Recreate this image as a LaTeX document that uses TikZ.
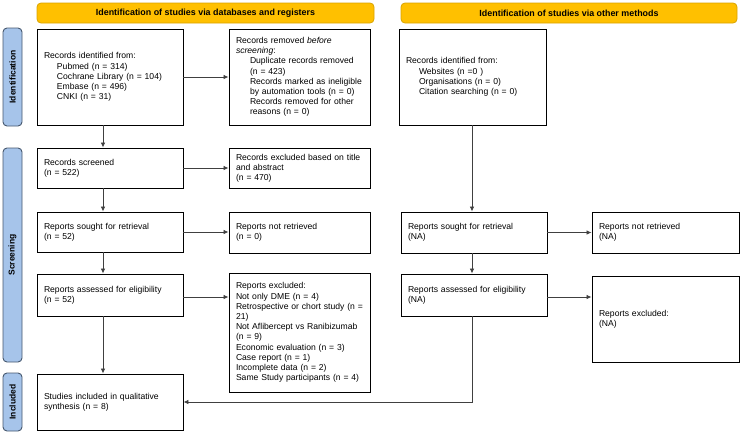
\documentclass[tikz,border=0pt]{standalone}
\usepackage{fontspec}
\setmainfont{Liberation Sans}
\usetikzlibrary{arrows.meta,calc}
\definecolor{hdrfill}{HTML}{FFC000}
\definecolor{hdrline}{HTML}{D9A300}
\definecolor{sidefill}{HTML}{A6C4EA}
\definecolor{sideline}{HTML}{46586E}
\definecolor{conn}{HTML}{404040}
\begin{document}
\begin{tikzpicture}[x=1pt,y=-1pt,
  txt/.style={font=\fontsize{8.6}{10.2}\selectfont},
  box/.style={draw=black,line width=0.9pt,fill=white,inner xsep=7pt,inner ysep=2pt,align=left,txt},
  hdr/.style={draw=hdrline,line width=0.8pt,fill=hdrfill,rounded corners=4pt,minimum height=20pt,font=\fontsize{8.9}{10}\selectfont\bfseries,inner sep=0pt},
  side/.style={draw=sideline,line width=0.9pt,fill=sidefill,rounded corners=4pt,rotate=90,minimum height=19pt,font=\fontsize{8.5}{10}\selectfont\bfseries,inner sep=0pt},
  arr/.style={draw=conn,line width=0.8pt,-{Latex[length=5pt,width=4.5pt]}}
]
\useasboundingbox (0,0) rectangle (740,434);

% headers
\node[hdr,minimum width=337pt] (h1) at (205.5,13) {Identification of studies via databases and registers};
\node[hdr,minimum width=336pt] (h2) at (569,13) {Identification of studies via other methods};

% side labels
\node[side,minimum width=98pt] (s1) at (12.5,77) {Identification};
\node[side,minimum width=214pt] (s2) at (12.5,255) {Screening};
\node[side,minimum width=58pt] (s3) at (12.5,402) {Included};

% left column
\node[box,text width=132pt,minimum height=96pt] (A) at (110,77)
 {Records identified from:\\\hspace*{13pt}Pubmed (n = 314)\\\hspace*{13pt}Cochrane Library (n = 104)\\\hspace*{13pt}Embase (n = 496)\\\hspace*{13pt}CNKI (n = 31)};
\node[box,text width=127pt,minimum height=96pt] (B) at (299.5,77)
 {Records removed \textit{before}\\\textit{screening}:\\\hspace*{14pt}Duplicate records removed\\\hspace*{14pt}(n = 423)\\\hspace*{14pt}\mbox{Records marked as ineligible}\\\hspace*{14pt}\mbox{by automation tools (n = 0)}\\\hspace*{14pt}Records removed for other\\\hspace*{14pt}reasons (n = 0)};
\node[box,text width=132pt,minimum height=40pt] (C) at (110,168)
 {Records screened\\(n = 522)};
\node[box,text width=127pt,minimum height=40pt] (D) at (299.5,168)
 {\mbox{Records excluded based on title}\\and abstract\\(n = 470)};
\node[box,text width=132pt,minimum height=40pt] (E) at (110,232)
 {Reports sought for retrieval\\(n = 52)};
\node[box,text width=127pt,minimum height=41pt] (F) at (299.5,232.5)
 {Reports not retrieved\\(n = 0)};
\node[box,text width=132pt,minimum height=42pt] (G) at (110,295)
 {Reports assessed for eligibility\\(n = 52)};
\node[box,text width=127pt,minimum height=119pt] (H) at (299.5,332.5)
 {Reports excluded:\\Not only DME (n = 4)\\\mbox{Retrospective or chort study (n =}\\21)\\\mbox{Not Aflibercept vs Ranibizumab}\\(n = 9)\\Economic evaluation (n = 3)\\Case report (n = 1)\\Incomplete data (n = 2)\\\mbox{Same Study participants (n = 4)}};
\node[box,text width=132pt,minimum height=56pt] (I) at (110,402)
 {Studies included in qualitative\\synthesis (n = 8)};

% right column
\node[box,text width=133pt,minimum height=96pt] (J) at (472.5,77)
 {Records identified from:\\\hspace*{13pt}Websites (n =0 )\\\hspace*{13pt}Organisations (n = 0)\\\hspace*{13pt}Citation searching (n = 0)};
\node[box,text width=132pt,minimum height=41pt] (K) at (474,232.5)
 {Reports sought for retrieval\\(NA)};
\node[box,text width=133pt,minimum height=41pt] (L) at (665.5,232.5)
 {Reports not retrieved\\(NA)};
\node[box,text width=132pt,minimum height=42pt] (M) at (474,295)
 {Reports assessed for eligibility\\(NA)};
\node[box,text width=133pt,minimum height=86pt] (N) at (665.5,319)
 {Reports excluded:\\(NA)};

\coordinate (xl) at (103,0);
\coordinate (xr) at (472,0);

% connectors left
\draw[arr] (A.south -| xl) -- (C.north -| xl);
\draw[arr] (C.south -| xl) -- (E.north -| xl);
\draw[arr] (E.south -| xl) -- (G.north -| xl);
\draw[arr] (G.south -| xl) -- (I.north -| xl);
\draw[arr] (A.east) -- (A.east -| B.west);
\draw[arr] (C.east) -- (C.east -| D.west);
\draw[arr] (E.east) -- (E.east -| F.west);
\draw[arr] ($(G.east)+(0,2)$) -- ($(G.east -| H.west)+(0,2)$);

% connectors right
\draw[arr] (J.south -| xr) -- (K.north -| xr);
\draw[arr] (K.south -| xr) -- (M.north -| xr);
\draw[arr] (K.east) -- (K.east -| L.west);
\draw[arr] ($(M.east)+(0,2)$) -- ($(M.east -| N.west)+(0,2)$);
\draw[arr] (M.south -| xr) |- (I.east);
\end{tikzpicture}
\end{document}
